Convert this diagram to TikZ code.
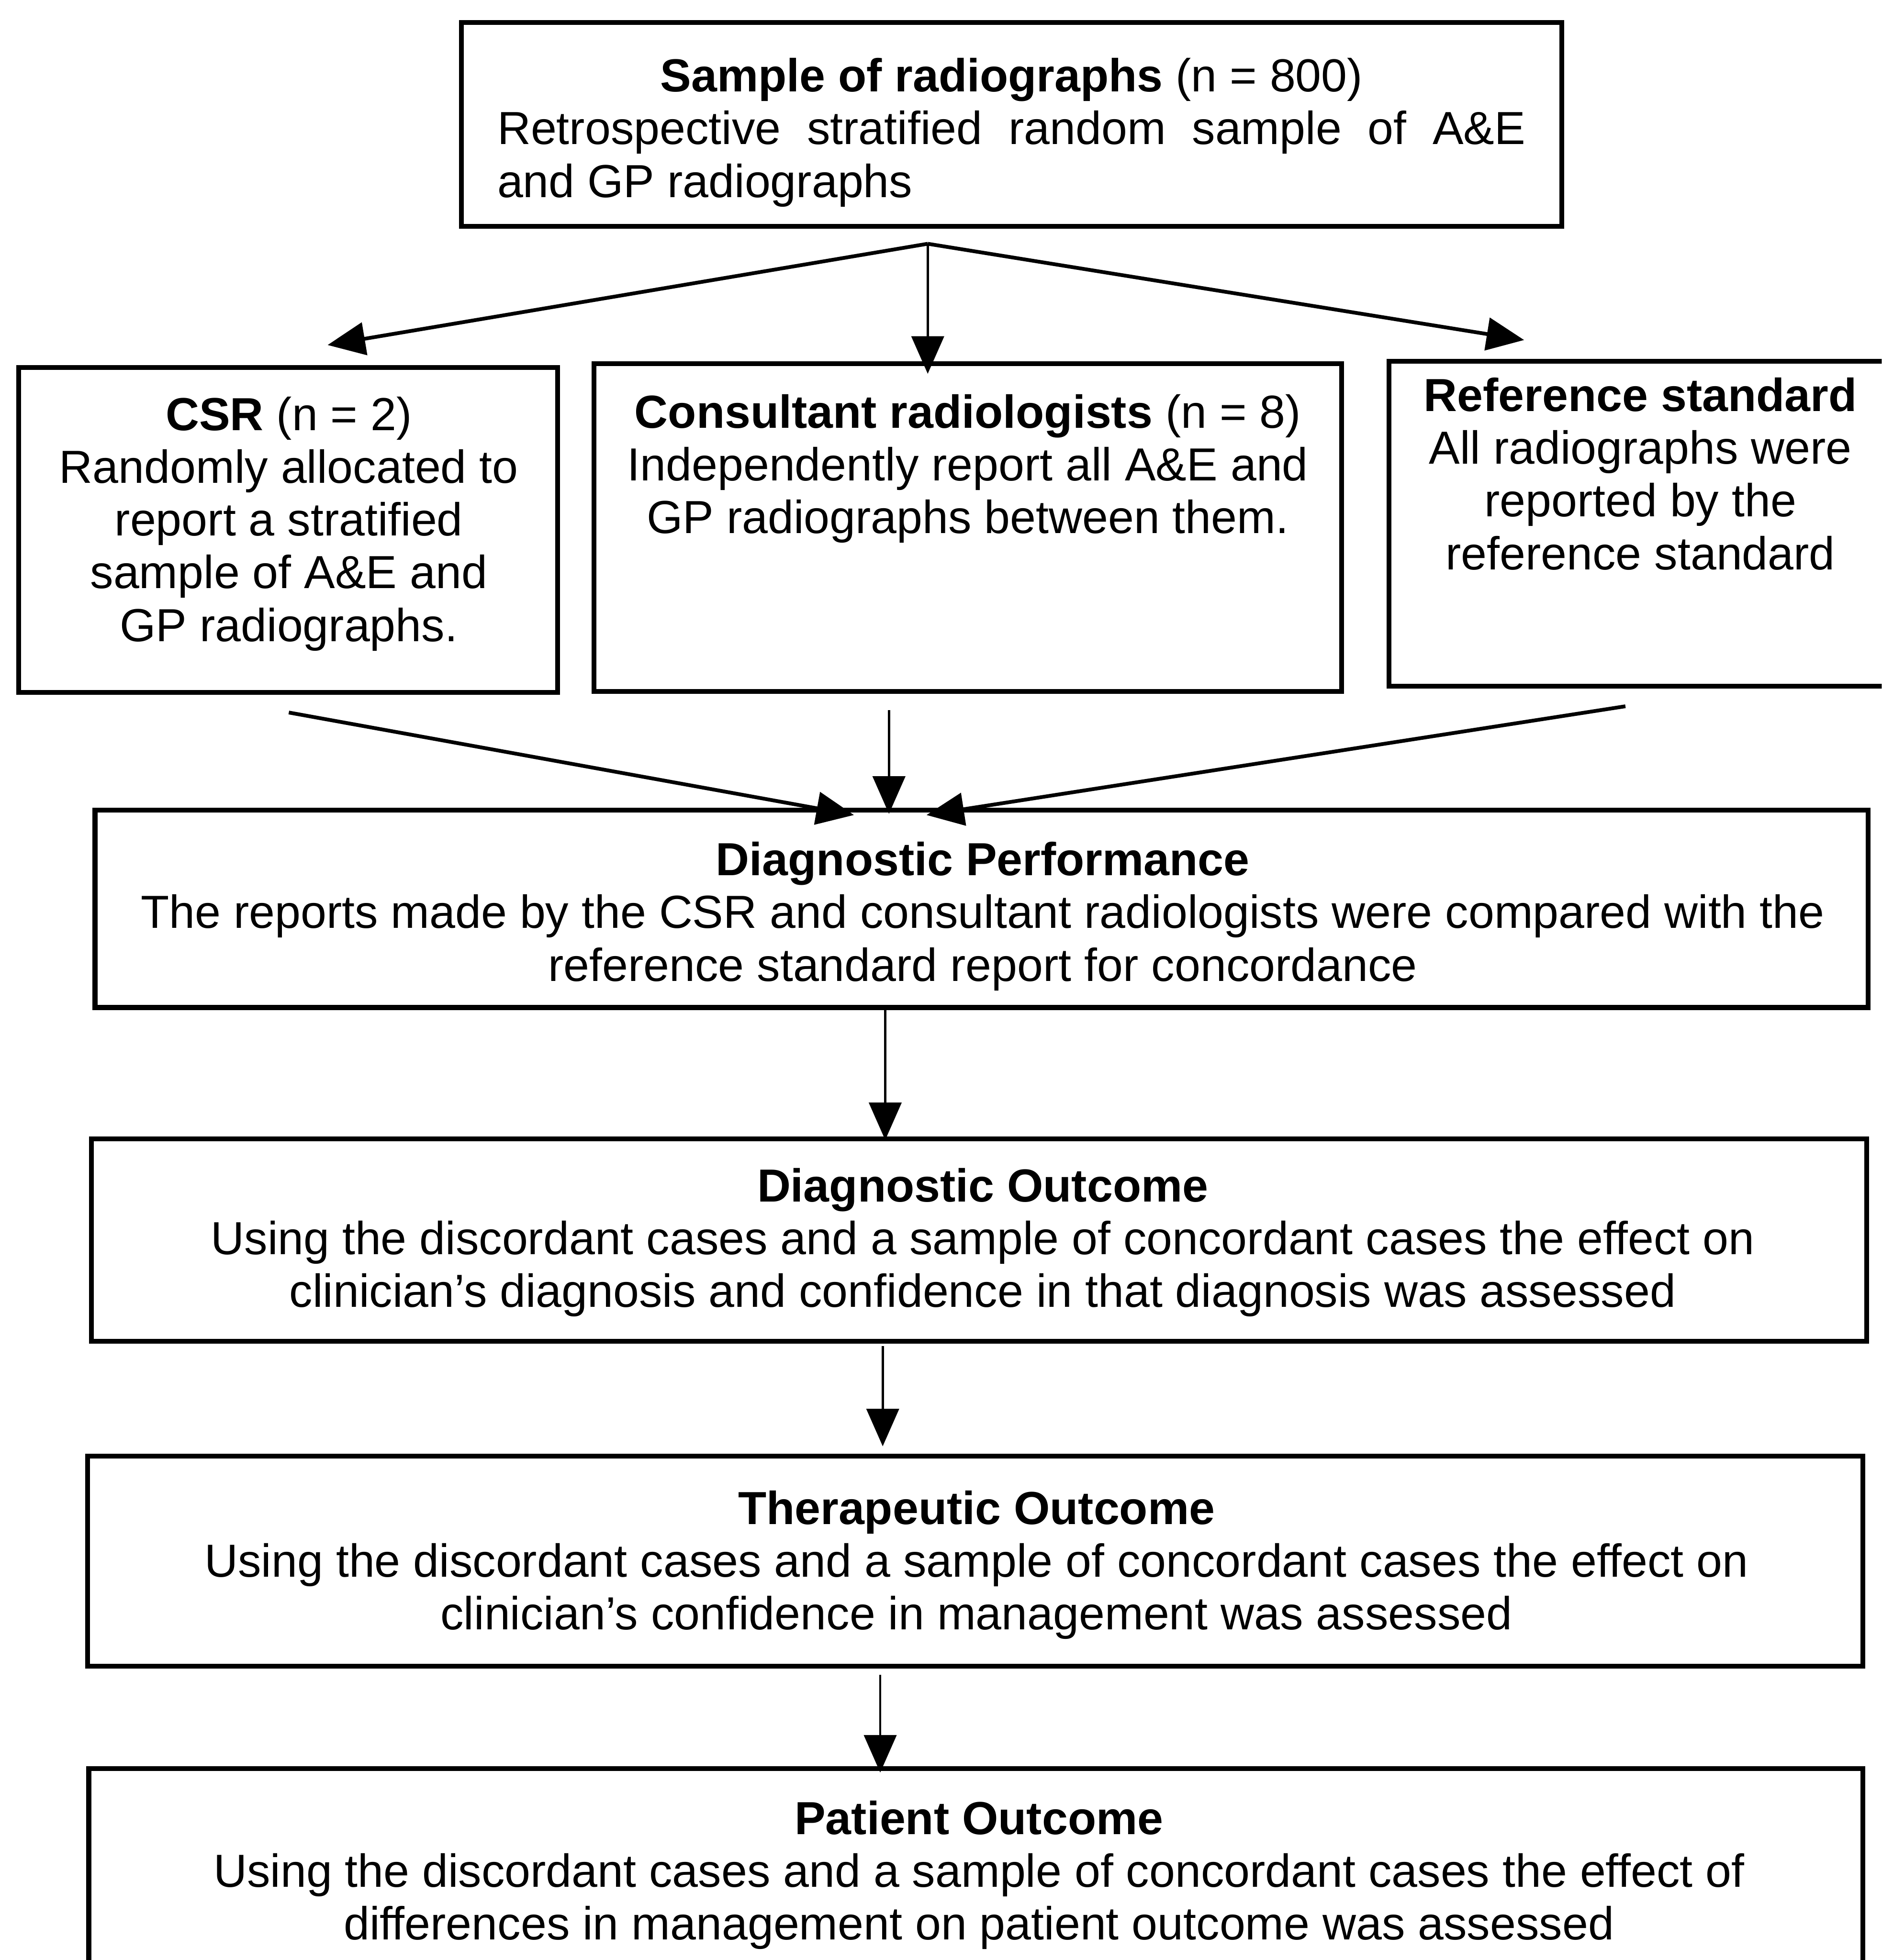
\documentclass[tikz,border=0pt]{standalone}
\usepackage{fontspec}
\setmainfont{Liberation Sans}
\usetikzlibrary{arrows.meta,fit}
\begin{document}
\begin{tikzpicture}[x=0.01cm,y=-0.01cm,
  box/.style={draw, line width=1.1pt, inner sep=0pt},
  txt/.style={font=\fontsize{10.55}{12.0}\selectfont, align=center, inner sep=0pt},
  arr/.style={-{Triangle[length=0.3cm,width=0.26cm]}, line width=0.85pt},
  thinarr/.style={-{Triangle[length=0.3cm,width=0.26cm]}, line width=0.5pt}]
\clip (0,0) rectangle (1505,1568);
\fill[white] (0,0) rectangle (1505,1568);
% boxes
\node[box, fit={(369,18) (1249,181)}] (top) {};
\node[box, fit={(15,294) (446,554)}] (csr) {};
\node[box, fit={(475,291) (1073,553)}] (cons) {};
\node[box, fit={(1111,289) (1530,549)}] (ref) {};
\node[box, fit={(76,648) (1494,806)}] (dp) {};
\node[box, fit={(73,911) (1493,1073)}] (do) {};
\node[box, fit={(70,1165) (1490,1333)}] (to) {};
\node[box, fit={(71,1415) (1490,1600)}] (po) {};
% texts
\node[txt, text width=8.22cm, align=justify] (top-t) at (809,106) {{\centering\textbf{Sample of radiographs} (n = 800)\par}Retrospective stratified random sample of A\&E\linebreak and GP radiographs};
\node[txt] (csr-t) at (231,419) {\textbf{CSR} (n = 2)\\Randomly allocated to\\report a stratified\\sample of A\&E and\\GP radiographs.};
\node[txt] (cons-t) at (774,375) {\textbf{Consultant radiologists} (n = 8)\\Independently report all A\&E and\\GP radiographs between them.};
\node[txt] (ref-t) at (1312,379) {\textbf{Reference standard}\\All radiographs were\\reported by the\\reference standard};
\node[txt] (dp-t) at (786,733) {\textbf{Diagnostic Performance}\\The reports made by the CSR and consultant radiologists were compared with the\\reference standard report for concordance};
\node[txt] (do-t) at (786,994) {\textbf{Diagnostic Outcome}\\Using the discordant cases and a sample of concordant cases the effect on\\clinician's diagnosis and confidence in that diagnosis was assessed};
\node[txt] (to-t) at (781,1252) {\textbf{Therapeutic Outcome}\\Using the discordant cases and a sample of concordant cases the effect on\\clinician's confidence in management was assessed};
\node[txt] (po-t) at (783,1500) {\textbf{Patient Outcome}\\Using the discordant cases and a sample of concordant cases the effect of\\differences in management on patient outcome was assessed};
% connector points
\coordinate (apex) at (742,195);
\coordinate (csr-in) at (262,276);
\coordinate (cons-in) at (742,299);
\coordinate (ref-in) at (1219,272);
\coordinate (csr-out) at (231,570);
\coordinate (cons-out) at (711,568);
\coordinate (ref-out) at (1300,565);
\coordinate (dp-inl) at (683,652);
\coordinate (dp-inc) at (711,651);
\coordinate (dp-inr) at (741,652);
\coordinate (dp-out) at (708,808);
\coordinate (do-in) at (708,912);
\coordinate (do-out) at (706,1077);
\coordinate (to-in) at (706,1157);
\coordinate (to-out) at (704,1340);
\coordinate (po-in) at (704,1418);
% connectors
\draw[arr] (apex) -- (csr-in);
\draw[thinarr] (apex) -- (cons-in);
\draw[arr] (apex) -- (ref-in);
\draw[arr] (csr-out) -- (dp-inl);
\draw[thinarr] (cons-out) -- (dp-inc);
\draw[arr] (ref-out) -- (dp-inr);
\draw[thinarr] (dp-out) -- (do-in);
\draw[thinarr] (do-out) -- (to-in);
\draw[thinarr] (to-out) -- (po-in);
\end{tikzpicture}
\end{document}
